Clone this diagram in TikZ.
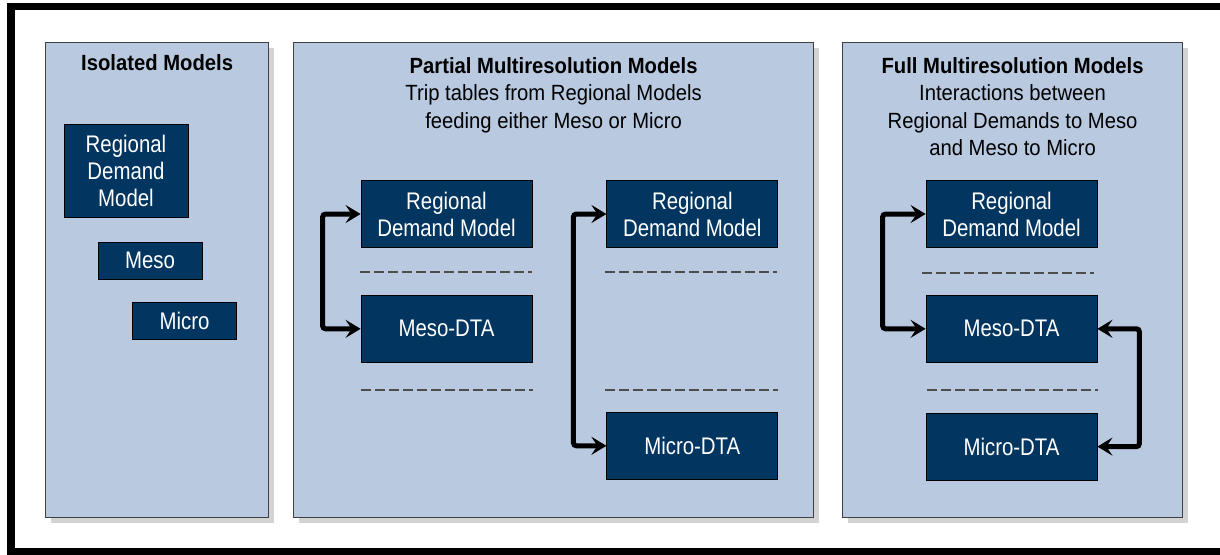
\documentclass[tikz,border=0pt]{standalone}
\usepackage{fontspec}
\setmainfont{Liberation Sans}[FakeStretch=0.92]
\newfontfamily\boxfont{Liberation Sans}[FakeStretch=0.85]
\usetikzlibrary{arrows.meta,positioning,calc,shadows}

\definecolor{panelblue}{HTML}{B8C9E0}
\definecolor{boxnavy}{HTML}{02355F}
\definecolor{sepgray}{HTML}{4D4D4D}

\begin{document}
\begin{tikzpicture}[
  x=0.5pt, y=-0.5pt,
  font=\fontsize{11}{13.75}\selectfont,
  panel/.style={draw=black!75, fill=panelblue, line width=0.6pt, anchor=north west, inner sep=0pt,
    drop shadow={shadow xshift=2.5pt, shadow yshift=-2.5pt, opacity=0.35}},
  model/.style={draw=black, fill=boxnavy, text=white, align=center, inner sep=0pt,
    font=\boxfont\fontsize{12}{13.5}\selectfont,
    minimum width=85.5pt, minimum height=33.5pt},
  smallmodel/.style={model, minimum width=52pt, minimum height=18.5pt},
  paneltitle/.style={align=center, inner sep=0pt, anchor=north},
  dashsep/.style={draw=sepgray, line width=1pt, dash pattern=on 5pt off 2pt},
  link/.style={{Stealth[length=7.5pt,width=9pt,inset=3pt]}-{Stealth[length=7.5pt,width=9pt,inset=3pt]},
    line width=2.5pt, rounded corners=1.5pt}
]
\useasboundingbox (0,0) rectangle (1220,554);
\clip (0,0) rectangle (1220,554);

% ----- OUTER FRAME -----
\draw[line width=3.75pt] (11,6.5) rectangle (1260,551.5);

% ----- PANELS -----
\node[panel, minimum width=111.5pt, minimum height=237.5pt] (pI) at (45,42) {};
\node[panel, minimum width=260pt, minimum height=237.5pt] (pP) at (293,42) {};
\node[panel, minimum width=170pt, minimum height=237.5pt] (pF) at (842,42) {};

% ----- TITLES -----
\node[paneltitle] (tI) at ($(pI.north)+(0,12)$) {\bfseries Isolated Models};
\node[paneltitle] (tP) at ($(pP.north)+(0,15)$) {\bfseries Partial Multiresolution Models\\
  Trip tables from Regional Models\\feeding either Meso or Micro};
\node[paneltitle] (tF) at ($(pF.north)+(0,15)$) {\bfseries Full Multiresolution Models\\
  Interactions between\\Regional Demands to Meso\\and Meso to Micro};

% ----- ISOLATED MODELS -----
\node[model, minimum width=62pt, minimum height=46.5pt] (rdmI) at (126,170.5) {Regional\\Demand\\Model};
\node[smallmodel] (mesoI) at (150,260.5) {Meso};
\node[smallmodel] (microI) at (184.5,320.5) {Micro};

% ----- PARTIAL MULTIRESOLUTION -----
\node[model] (rdmA) at (446.5,214) {Regional\\Demand Model};
\node[model, below=23.5pt of rdmA] (mesoA) {Meso-DTA};
\node[model, right=37pt of rdmA] (rdmB) {Regional\\Demand Model};
\node[model, below=82pt of rdmB] (microB) {Micro-DTA};

\draw[dashsep] (360,272) -- (532,272);
\draw[dashsep] (361,390) -- (533,390);
\draw[dashsep] (605,272) -- (777,272);
\draw[dashsep] (605,390) -- (778,390);

\draw[link] (rdmA.west) -- ++(-19pt,0) |- (mesoA.west);
\draw[link] (rdmB.west) -- ++(-16.5pt,0) |- (microB.west);

% ----- FULL MULTIRESOLUTION -----
\node[model] (rdmC) at (1011.5,214) {Regional\\Demand Model};
\node[model, below=23.5pt of rdmC] (mesoC) {Meso-DTA};
\node[model, below=25pt of mesoC] (microC) {Micro-DTA};

\draw[dashsep] (922,273) -- (1094,273);
\draw[dashsep] (927,390) -- (1098,390);

\draw[link] (rdmC.west) -- ++(-21.5pt,0) |- (mesoC.west);
\draw[link] (mesoC.east) -- ++(21pt,0) |- (microC.east);

\end{tikzpicture}
\end{document}
